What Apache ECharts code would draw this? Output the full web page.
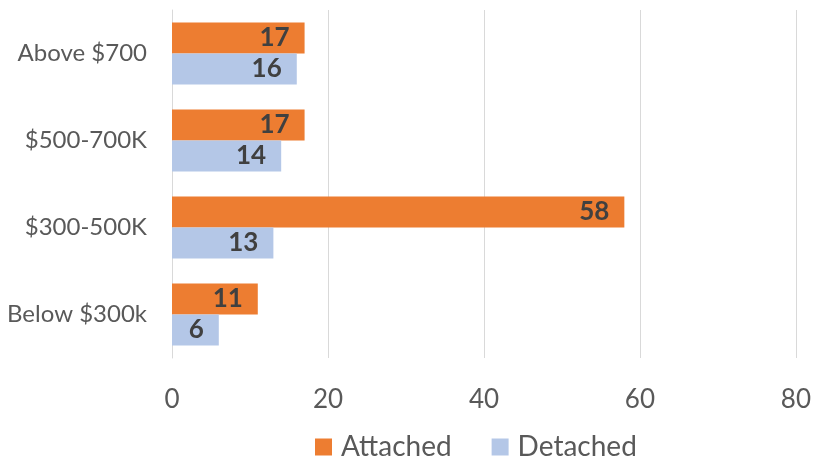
<!DOCTYPE html>
<html><head><meta charset="utf-8">
<script src="https://cdn.jsdelivr.net/npm/echarts@6/dist/echarts.min.js"></script>
<style>html,body{margin:0;padding:0;background:#fff}#c{width:814px;height:458px}</style>
</head><body><div id="c"></div>
<script>
const categories = ["Above $700", "$500-700K", "$300-500K", "Below $300k"];
const attached = [17, 17, 58, 11];
const detached = [16, 14, 13, 6];
const xTicks = [0, 20, 40, 60, 80];
const FONT = "Lato";
const chart = echarts.init(document.getElementById('c'));
const lbl = {show: true, position: 'insideRight', distance: 15, color: '#404040', fontSize: 26, fontWeight: 'bold', fontFamily: FONT};
chart.setOption({
  animation: false,
  textStyle: {fontFamily: FONT},
  grid: {left: 172, right: 17, top: 10, bottom: 100, containLabel: false},
  legend: {top: 428, left: 310, itemWidth: 17, itemHeight: 17, itemGap: 40, icon: 'rect',
    textStyle: {fontSize: 28, color: '#595959', fontFamily: FONT, padding: [0, 0, 0, 4]}, data: ['Attached', 'Detached']},
  xAxis: {type: 'value', min: xTicks[0], max: xTicks[xTicks.length-1], interval: 20,
    axisLine: {show: false}, axisTick: {show: false},
    splitLine: {lineStyle: {color: '#d9d9d9', width: 1}},
    axisLabel: {fontSize: 26, color: '#595959', margin: 29, fontFamily: FONT}},
  yAxis: {type: 'category', data: categories, inverse: true,
    axisLine: {show: true, lineStyle: {color: '#d9d9d9'}}, axisTick: {show: false},
    axisLabel: {fontSize: 24, color: '#595959', margin: 25, fontFamily: FONT}},
  series: [
    {name: 'Attached', type: 'bar', data: attached, barGap: '0%', barCategoryGap: '29%',
     itemStyle: {color: '#ed7d31'}, label: lbl},
    {name: 'Detached', type: 'bar', data: detached, barGap: '0%', barCategoryGap: '29%',
     itemStyle: {color: '#b4c7e7'}, label: lbl}
  ]
});
</script></body></html>
